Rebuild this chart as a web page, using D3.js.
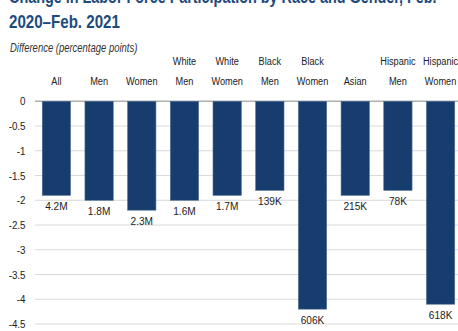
<!DOCTYPE html>
<html><head><meta charset="utf-8">
<script src="https://cdn.jsdelivr.net/npm/d3@7"></script>
<style>body{margin:0;background:#fff;}svg{display:block;}</style>
</head><body>
<svg id="chart" width="458" height="331"></svg>
<script>
const categories = [["All"],["Men"],["Women"],["White","Men"],["White","Women"],["Black","Men"],["Black","Women"],["Asian"],["Hispanic","Men"],["Hispanic","Women"]];
const values = [-1.9,-2.0,-2.2,-2.0,-1.9,-1.8,-4.2,-1.9,-1.8,-4.1];
const barLabels = ["4.2M","1.8M","2.3M","1.6M","1.7M","139K","606K","215K","78K","618K"];
const yTicks = [0,-0.5,-1,-1.5,-2,-2.5,-3,-3.5,-4,-4.5];
const titleLines = ["Change in Labor Force Participation by Race and Gender, Feb.","2020\u2013Feb. 2021"];
const subtitle = "Difference (percentage points)";

const font = "'Liberation Sans',Arial,sans-serif";
const svg = d3.select("#chart");
const y = d3.scaleLinear().domain([0,-4.5]).range([101.3,324]);
const x = d3.scaleBand().domain(d3.range(categories.length)).range([35,462]).paddingInner(0.337).paddingOuter(0.17);

function txt(parent, px, py, str, o) {
  const g = parent.append("g").attr("transform", `translate(${px},${py}) scale(${o.sx||0.82},1)`);
  return g.append("text").attr("x",0).attr("y",0)
    .attr("text-anchor", o.anchor||"start")
    .attr("font-family", font)
    .attr("font-size", o.size||11.5)
    .attr("font-weight", o.weight||"normal")
    .attr("font-style", o.style||"normal")
    .attr("fill", o.fill||"#222")
    .text(str);
}

// title
txt(svg, 9, 3, titleLines[0], {size:18, weight:"bold", fill:"#1d4b7d", sx:0.8});
txt(svg, 9, 28, titleLines[1], {size:18, weight:"bold", fill:"#1d4b7d", sx:0.84});
txt(svg, 10, 52, subtitle, {size:12, style:"italic", fill:"#333", sx:0.79});

// gridlines
svg.append("g").selectAll("line").data(yTicks).join("line")
  .attr("x1",35).attr("x2",458).attr("y1",d=>y(d)).attr("y2",d=>y(d))
  .attr("stroke",d=>d===0?"#b0b0b0":"#d9d9d9").attr("stroke-width",d=>d===0?1.5:1);

// y labels
const yg = svg.append("g");
yTicks.forEach(d=>{
  txt(yg, 25.5, y(d)+4, d===0?"0":String(d), {anchor:"end", sx:0.85});
});

// bars
svg.append("g").selectAll("rect").data(values).join("rect")
  .attr("x",(d,i)=>x(i)).attr("width",x.bandwidth())
  .attr("y",y(0)).attr("height",d=>y(d)-y(0))
  .attr("fill","#163d6e").attr("stroke","#4f6f97").attr("stroke-width",0.6);

// category labels
const cg = svg.append("g");
categories.forEach((c,i)=>{
  const cx = x(i)+x.bandwidth()/2;
  c.forEach((t,j)=>{
    const yy = c.length===2 ? (j===0?65:85) : 85;
    txt(cg, cx, yy, t, {anchor:"middle", sx:0.8});
  });
});

// bar value labels
const vg = svg.append("g");
values.forEach((d,i)=>{
  txt(vg, x(i)+x.bandwidth()/2, y(d)+15, barLabels[i], {anchor:"middle", sx:0.88});
});
</script>
</body></html>
